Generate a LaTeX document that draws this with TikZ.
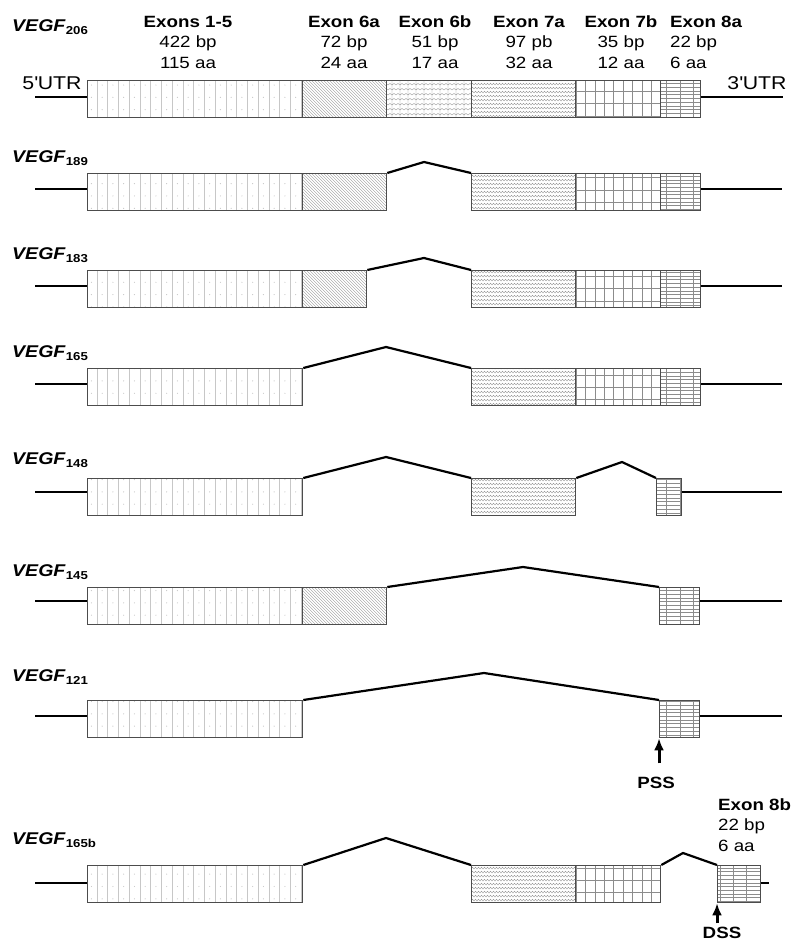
\documentclass[tikz,border=0pt]{standalone}
\usepackage{fontspec}
\setmainfont{Liberation Sans}[FakeStretch=1.15]
\usetikzlibrary{patterns,arrows.meta,positioning}

% fill patterns of the exons
\pgfdeclarepatternformonly{exdots}{\pgfqpoint{-0.5pt}{-0.5pt}}{\pgfqpoint{11.25pt}{12.83pt}}{\pgfqpoint{10.75pt}{12.33pt}}{%
  \pgfsetlinewidth{0.3pt}%
  \pgfpathmoveto{\pgfqpoint{0pt}{0pt}}%
  \pgfpathlineto{\pgfqpoint{0pt}{12.33pt}}%
  \pgfusepath{stroke}%
  \pgfpathcircle{\pgfqpoint{5.4pt}{6.2pt}}{0.6pt}%
  \pgfusepath{fill}%
}
\pgfdeclarepatternformonly{exhatch}{\pgfqpoint{-1pt}{-1pt}}{\pgfqpoint{4pt}{4pt}}{\pgfqpoint{3pt}{3pt}}{%
  \pgfsetlinewidth{0.35pt}%
  \pgfpathmoveto{\pgfqpoint{0pt}{3pt}}%
  \pgfpathlineto{\pgfqpoint{3.1pt}{-0.1pt}}%
  \pgfusepath{stroke}%
}
\pgfdeclarepatternformonly{exripple}{\pgfqpoint{-0.5pt}{-0.5pt}}{\pgfqpoint{8.5pt}{5.5pt}}{\pgfqpoint{8pt}{5pt}}{%
  \pgfsetlinewidth{0.4pt}%
  \pgfpathmoveto{\pgfqpoint{0pt}{2pt}}%
  \pgfpathlineto{\pgfqpoint{2pt}{3.5pt}}%
  \pgfpathlineto{\pgfqpoint{4pt}{2pt}}%
  \pgfpathlineto{\pgfqpoint{6pt}{3.5pt}}%
  \pgfpathlineto{\pgfqpoint{8pt}{2pt}}%
  \pgfpathmoveto{\pgfqpoint{0pt}{0pt}}%
  \pgfpathlineto{\pgfqpoint{0pt}{5pt}}%
  \pgfusepath{stroke}%
}
\pgfdeclarepatternformonly{exwave}{\pgfqpoint{-0.5pt}{-0.5pt}}{\pgfqpoint{6.5pt}{4.5pt}}{\pgfqpoint{6pt}{4pt}}{%
  \pgfsetlinewidth{0.4pt}%
  \pgfpathmoveto{\pgfqpoint{0pt}{1pt}}%
  \pgfpathlineto{\pgfqpoint{1.5pt}{2.8pt}}%
  \pgfpathlineto{\pgfqpoint{3pt}{1pt}}%
  \pgfpathlineto{\pgfqpoint{4.5pt}{2.8pt}}%
  \pgfpathlineto{\pgfqpoint{6pt}{1pt}}%
  \pgfusepath{stroke}%
}
\pgfdeclarepatternformonly{exgrid}{\pgfqpoint{-0.5pt}{-0.5pt}}{\pgfqpoint{9.94pt}{12.83pt}}{\pgfqpoint{9.44pt}{12.33pt}}{%
  \pgfsetlinewidth{0.45pt}%
  \pgfpathmoveto{\pgfqpoint{0pt}{0pt}}%
  \pgfpathlineto{\pgfqpoint{0pt}{12.33pt}}%
  \pgfpathmoveto{\pgfqpoint{0pt}{0pt}}%
  \pgfpathlineto{\pgfqpoint{9.44pt}{0pt}}%
  \pgfusepath{stroke}%
}
\pgfdeclarepatternformonly{exbars}{\pgfqpoint{-0.5pt}{-0.5pt}}{\pgfqpoint{13.83pt}{4.2pt}}{\pgfqpoint{13.33pt}{3.7pt}}{%
  \pgfsetlinewidth{0.4pt}%
  \pgfpathmoveto{\pgfqpoint{0pt}{0pt}}%
  \pgfpathlineto{\pgfqpoint{13.33pt}{0pt}}%
  \pgfpathmoveto{\pgfqpoint{0pt}{0pt}}%
  \pgfpathlineto{\pgfqpoint{0pt}{3.7pt}}%
  \pgfusepath{stroke}%
}

\newcommand{\vegf}[1]{\textbf{\textit{VEGF}\raisebox{-3.5pt}{\fontsize{11.5}{12}\selectfont #1}}}

\tikzset{
  exon/.style={rectangle, draw=black!70, line width=1.3pt, inner sep=0pt,
    minimum height=37pt, anchor=north west},
  ex15/.style={exon, minimum width=215pt, pattern=exdots, pattern color=black!22},
  ex6a/.style={exon, minimum width=84pt, pattern=exhatch, pattern color=black!40},
  ex6b/.style={exon, minimum width=85pt, pattern=exripple, pattern color=black!40},
  ex7a/.style={exon, minimum width=104pt, pattern=exwave, pattern color=black!40},
  ex7b/.style={exon, minimum width=85pt, pattern=exgrid, pattern color=black!45},
  ex8a/.style={exon, minimum width=40pt, pattern=exbars, pattern color=black!45},
  utr/.style={line width=2.2pt},
  splice/.style={line width=2.2pt},
  iso/.style={anchor=west, inner sep=0pt, font=\fontsize{17}{20}\selectfont},
  head/.style={align=center, inner sep=0pt, font=\fontsize{16.3}{20.5}\selectfont},
  utrlabel/.style={inner sep=0pt, font=\fontsize{18.5}{22}\selectfont},
  site/.style={inner sep=0pt, font=\fontsize{16.3}{20}\selectfont\bfseries},
  siteline/.style={->, line width=3pt}
}

\begin{document}
\begin{tikzpicture}[x=1pt, y=-1pt, >={Latex[length=12pt, width=10pt]}]
  \useasboundingbox (0,0) rectangle (792,942);

  % exon headings
  \node[head] (h15) at (188,42) {\textbf{Exons 1-5}\\422 bp\\115 aa};
  \node[head] (h6a) at (344,42) {\textbf{Exon 6a}\\72 bp\\24 aa};
  \node[head] (h6b) at (435,42) {\textbf{Exon 6b}\\51 bp\\17 aa};
  \node[head] (h7a) at (529,42) {\textbf{Exon 7a}\\97 pb\\32 aa};
  \node[head] (h7b) at (621,42) {\textbf{Exon 7b}\\35 bp\\12 aa};
  \node[head, align=left, anchor=west] (h8a) at (670,42) {\textbf{Exon 8a}\\22 bp\\6 aa};

  % VEGF206
  \node[iso] (la) at (12,27) {\vegf{206}};
  \node[ex15] (a1) at (87,80) {};
  \node[ex6a] (a2) at (302,80) {};
  \node[ex6b] (a3) at (386,80) {};
  \node[ex7a] (a4) at (471,80) {};
  \node[ex7b] (a5) at (575,80) {};
  \node[ex8a] (a6) at (660,80) {};
  \node[utrlabel] (utr5) at (52,83) {5\textquotesingle UTR};
  \node[utrlabel] (utr3) at (757,83) {3\textquotesingle UTR};
  \coordinate (a0) at (35,97);
  \coordinate (a7) at (783,97);
  \draw[utr] (a0) -- (a0 -| a1.west);
  \draw[utr] (a6.east |- a7) -- (a7);

  % VEGF189
  \node[iso] (lb) at (12,158) {\vegf{189}};
  \node[ex15] (b1) at (87,173) {};
  \node[ex6a] (b2) at (302,173) {};
  \node[ex7a] (b3) at (471,173) {};
  \node[ex7b] (b4) at (575,173) {};
  \node[ex8a] (b5) at (660,173) {};
  \coordinate (b0) at (35,189);
  \coordinate (b6) at (782,189);
  \coordinate (bp) at (424,162);
  \draw[utr] (b0) -- (b0 -| b1.west);
  \draw[utr] (b5.east |- b6) -- (b6);
  \draw[splice] (b2.north east) -- (bp) -- (b3.north west);

  % VEGF183
  \node[iso] (lc) at (12,255) {\vegf{183}};
  \node[ex15] (c1) at (87,270) {};
  \node[ex6a, minimum width=64pt] (c2) at (302,270) {};
  \node[ex7a] (c3) at (471,270) {};
  \node[ex7b] (c4) at (575,270) {};
  \node[ex8a] (c5) at (660,270) {};
  \coordinate (c0) at (35,286);
  \coordinate (c6) at (782,286);
  \coordinate (cp) at (424,258);
  \draw[utr] (c0) -- (c0 -| c1.west);
  \draw[utr] (c5.east |- c6) -- (c6);
  \draw[splice] (c2.north east) -- (cp) -- (c3.north west);

  % VEGF165
  \node[iso] (ld) at (12,353) {\vegf{165}};
  \node[ex15] (d1) at (87,368) {};
  \node[ex7a] (d2) at (471,368) {};
  \node[ex7b] (d3) at (575,368) {};
  \node[ex8a] (d4) at (660,368) {};
  \coordinate (d0) at (35,384);
  \coordinate (d5) at (782,384);
  \coordinate (dp) at (386,347);
  \draw[utr] (d0) -- (d0 -| d1.west);
  \draw[utr] (d4.east |- d5) -- (d5);
  \draw[splice] (d1.north east) -- (dp) -- (d2.north west);

  % VEGF148
  \node[iso] (le) at (12,460) {\vegf{148}};
  \node[ex15] (e1) at (87,478) {};
  \node[ex7a] (e2) at (471,478) {};
  \node[ex8a, minimum width=25pt] (e3) at (656,478) {};
  \coordinate (e0) at (35,492);
  \coordinate (e4) at (782,492);
  \coordinate (ep) at (386,457);
  \coordinate (eq) at (622,462);
  \draw[utr] (e0) -- (e0 -| e1.west);
  \draw[utr] (e3.east |- e4) -- (e4);
  \draw[splice] (e1.north east) -- (ep) -- (e2.north west);
  \draw[splice] (e2.north east) -- (eq) -- (e3.north west);

  % VEGF145
  \node[iso] (lf) at (12,572) {\vegf{145}};
  \node[ex15] (f1) at (87,587) {};
  \node[ex6a] (f2) at (302,587) {};
  \node[ex8a] (f3) at (659,587) {};
  \coordinate (f0) at (35,601);
  \coordinate (f4) at (782,601);
  \coordinate (fp) at (523,567);
  \draw[utr] (f0) -- (f0 -| f1.west);
  \draw[utr] (f3.east |- f4) -- (f4);
  \draw[splice] (f2.north east) -- (fp) -- (f3.north west);

  % VEGF121
  \node[iso] (lg) at (12,677) {\vegf{121}};
  \node[ex15] (g1) at (87,700) {};
  \node[ex8a] (g2) at (659,700) {};
  \coordinate (g0) at (35,716);
  \coordinate (g3) at (782,716);
  \coordinate (gp) at (484,673);
  \draw[utr] (g0) -- (g0 -| g1.west);
  \draw[utr] (g2.east |- g3) -- (g3);
  \draw[splice] (g1.north east) -- (gp) -- (g2.north west);
  \node[site, below=39pt of g2.south west, xshift=-3pt] (pss) {PSS};
  \draw[siteline, shorten <=14pt] (pss.north -| g2.south west) -- (g2.south west);

  % VEGF165b
  \node[iso] (lh) at (12,840) {\vegf{165b}};
  \node[ex15] (h1) at (87,865) {};
  \node[ex7a] (h2) at (471,865) {};
  \node[ex7b] (h3) at (575,865) {};
  \node[ex8a, minimum width=43pt] (h4) at (717,865) {};
  \node[head, align=left, anchor=west] (h8b) at (718,825) {\textbf{Exon 8b}\\22 bp\\6 aa};
  \coordinate (h0) at (35,883);
  \coordinate (h5) at (769,883);
  \coordinate (hp) at (386,838);
  \coordinate (hq) at (683,853);
  \draw[utr] (h0) -- (h0 -| h1.west);
  \draw[utr] (h4.east |- h5) -- (h5);
  \draw[splice] (h1.north east) -- (hp) -- (h2.north west);
  \draw[splice] (h3.north east) -- (hq) -- (h4.north west);
  \node[site, below=24pt of h4.south west, xshift=5pt] (dss) {DSS};
  \draw[siteline, shorten <=4pt] (dss.north -| h4.south west) -- (h4.south west);
\end{tikzpicture}
\end{document}
